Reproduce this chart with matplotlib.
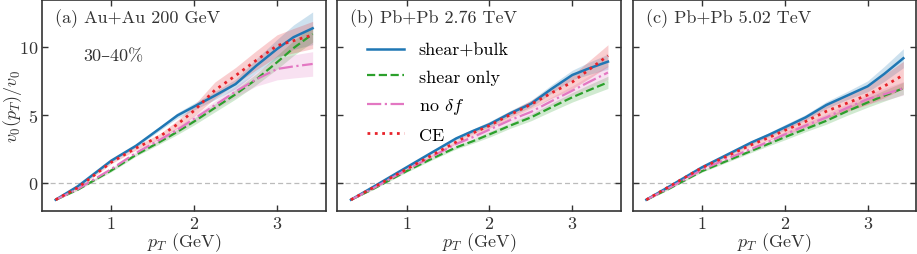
import matplotlib
matplotlib.use("Agg")
import matplotlib.pyplot as plt
import numpy as np

plt.rcParams.update({
    "font.family": ["cmr10", "DejaVu Serif"],
    "mathtext.fontset": "cm",
    "axes.formatter.use_mathtext": True,
    "font.size": 13,
})

pt = [0.33, 0.6, 1.0, 1.3, 1.6, 1.8, 2.0, 2.25, 2.5, 2.75, 3.0, 3.2, 3.43]

panel_titles = ["(a) Au+Au 200 GeV", "(b) Pb+Pb 2.76 TeV", "(c) Pb+Pb 5.02 TeV"]
series_labels = ["shear+bulk", "shear only", r"no $\delta f$", "CE"]

# panel (a) Au+Au 200 GeV
a_bulk = [-1.25, -0.25, 1.62, 2.72, 4.05, 4.95, 5.6, 6.4, 7.25, 8.6, 9.83, 10.7, 11.35]
a_shear = [-1.25, -0.5, 0.9, 2.05, 3.05, 3.75, 4.5, 5.5, 6.5, 7.6, 8.85, 9.9, 10.93]
a_nodf = [-1.25, -0.45, 1.0, 2.2, 3.2, 3.9, 4.7, 5.7, 6.7, 7.6, 8.36, 8.55, 8.73]
a_ce = [-1.25, -0.35, 1.5, 2.55, 3.46, 4.3, 5.3, 6.8, 7.87, 9.0, 10.07, 10.44, 10.86]
a_bulk_err = [0.05, 0.05, 0.1, 0.1, 0.15, 0.2, 0.25, 0.3, 0.35, 0.5, 0.7, 0.9, 1.2]
a_shear_err = [0.05, 0.05, 0.1, 0.1, 0.15, 0.2, 0.25, 0.3, 0.35, 0.4, 0.5, 0.55, 0.6]
a_nodf_err = [0.05, 0.05, 0.1, 0.1, 0.15, 0.2, 0.25, 0.3, 0.4, 0.5, 0.8, 0.85, 0.9]
a_ce_err = [0.05, 0.05, 0.1, 0.15, 0.2, 0.3, 0.4, 0.6, 0.6, 0.7, 0.8, 0.9, 1.0]

# panel (b) Pb+Pb 2.76 TeV
b_bulk = [-1.25, -0.3, 1.13, 2.2, 3.26, 3.8, 4.3, 5.1, 5.8, 6.9, 7.92, 8.4, 8.9]
b_shear = [-1.25, -0.45, 0.85, 1.75, 2.6, 3.05, 3.55, 4.2, 4.8, 5.55, 6.28, 6.8, 7.38]
b_nodf = [-1.25, -0.4, 0.95, 1.9, 2.85, 3.35, 3.9, 4.6, 5.2, 6.0, 6.77, 7.4, 8.1]
b_ce = [-1.25, -0.35, 1.0, 2.0, 3.0, 3.65, 4.2, 5.0, 5.75, 6.6, 7.4, 8.3, 9.34]
b_bulk_err = [0.05, 0.05, 0.08, 0.1, 0.12, 0.15, 0.2, 0.2, 0.25, 0.3, 0.35, 0.45, 0.55]
b_shear_err = [0.05, 0.05, 0.08, 0.1, 0.12, 0.15, 0.2, 0.2, 0.25, 0.3, 0.35, 0.4, 0.45]
b_nodf_err = [0.05, 0.05, 0.08, 0.1, 0.12, 0.15, 0.2, 0.2, 0.25, 0.3, 0.35, 0.45, 0.5]
b_ce_err = [0.05, 0.05, 0.08, 0.1, 0.12, 0.15, 0.2, 0.25, 0.3, 0.4, 0.5, 0.65, 0.8]

# panel (c) Pb+Pb 5.02 TeV
c_bulk = [-1.25, -0.3, 1.13, 2.05, 2.97, 3.5, 4.07, 4.8, 5.71, 6.4, 7.09, 8.0, 9.15]
c_shear = [-1.25, -0.45, 0.85, 1.6, 2.35, 2.85, 3.35, 3.95, 4.55, 5.25, 5.9, 6.4, 6.94]
c_nodf = [-1.25, -0.4, 0.95, 1.75, 2.5, 3.0, 3.55, 4.2, 4.8, 5.5, 6.15, 6.5, 6.94]
c_ce = [-1.25, -0.3, 1.1, 1.95, 2.8, 3.3, 3.85, 4.5, 5.25, 5.85, 6.45, 7.1, 7.92]
c_bulk_err = [0.05, 0.05, 0.08, 0.1, 0.12, 0.15, 0.2, 0.2, 0.25, 0.3, 0.4, 0.55, 0.7]
c_shear_err = [0.05, 0.05, 0.08, 0.1, 0.12, 0.15, 0.2, 0.2, 0.25, 0.3, 0.35, 0.4, 0.45]
c_nodf_err = [0.05, 0.05, 0.08, 0.1, 0.12, 0.15, 0.2, 0.2, 0.25, 0.3, 0.35, 0.45, 0.5]
c_ce_err = [0.05, 0.05, 0.08, 0.1, 0.15, 0.2, 0.3, 0.4, 0.5, 0.6, 0.7, 0.85, 1.0]

panels = [
    [(a_bulk, a_bulk_err), (a_shear, a_shear_err), (a_nodf, a_nodf_err), (a_ce, a_ce_err)],
    [(b_bulk, b_bulk_err), (b_shear, b_shear_err), (b_nodf, b_nodf_err), (b_ce, b_ce_err)],
    [(c_bulk, c_bulk_err), (c_shear, c_shear_err), (c_nodf, c_nodf_err), (c_ce, c_ce_err)],
]

colors = ["#1f77b4", "#2ca02c", "#e377c2", "#e8222a"]
styles = ["-", "--", "-.", ":"]
widths = [1.8, 1.6, 1.6, 2.0]

fig = plt.figure(figsize=(9.17, 2.55), dpi=100)
W, H = 917.0, 255.0
lefts = [42.0, 337.3, 632.7]
axw = 283.5
bottom = 212.3
top = 1.0
spine_col = "#333333"

x = np.array(pt)
for i, left in enumerate(lefts):
    ax = fig.add_axes([left / W, 1 - bottom / H, axw / W, (bottom - top) / H])
    ax.axhline(0, color="#bbbbbb", lw=0.9, ls=(0, (4, 2.5)), zorder=1)
    handles = []
    for k, (vals, errs) in enumerate(panels[i]):
        v = np.array(vals)
        e = np.array(errs)
        ax.fill_between(x, v - e, v + e, color=colors[k], alpha=0.22, lw=0, zorder=2)
    for k, (vals, errs) in enumerate(panels[i]):
        h, = ax.plot(x, vals, color=colors[k], ls=styles[k], lw=widths[k],
                     label=series_labels[k], zorder=3)
        handles.append(h)
    ax.set_xlim(0.165, 3.585)
    ax.set_ylim(-2.1, 13.43)
    ax.set_xticks([1, 2, 3])
    ax.set_yticks([0, 5, 10])
    ax.tick_params(direction="in", top=True, right=True, length=4, width=1.0,
                   color=spine_col, labelsize=13, pad=2.5, labelcolor="#333333")
    for s in ax.spines.values():
        s.set_color(spine_col)
        s.set_linewidth(1.2)
    ax.set_xlabel(r"$p_T$ (GeV)", fontsize=13, labelpad=0, color="#333333")
    if i == 0:
        ax.set_ylabel(r"$v_0(p_T)/v_0$", fontsize=13, color="#333333")
        ax.yaxis.set_label_coords(-0.062, 0.5)
        ax.text(0.146, 0.736, "30–40%", transform=ax.transAxes, fontsize=13,
                ha="left", va="center", color="#333333")
    else:
        ax.tick_params(labelleft=False)
    ax.text(0.046, 0.915, panel_titles[i], transform=ax.transAxes, fontsize=13,
            ha="left", va="center", color="#333333")
    if i == 1:
        ax.legend(handles=handles, loc="upper left", bbox_to_anchor=(0.105, 0.80),
                  frameon=False, borderpad=0, borderaxespad=0, handlelength=2.05,
                  handletextpad=0.8, labelspacing=0.62, fontsize=13)

fig.savefig("out.png", dpi=100)
